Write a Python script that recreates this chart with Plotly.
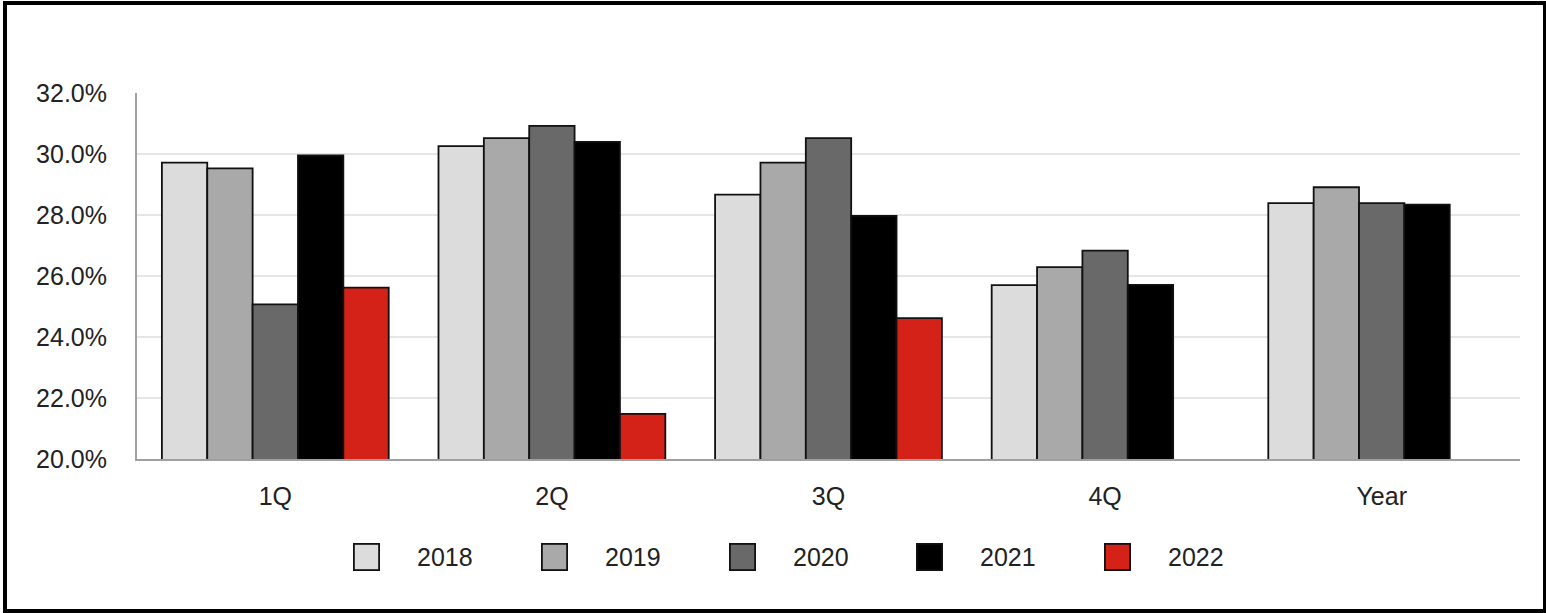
import plotly.graph_objects as go

categories = ["1Q", "2Q", "3Q", "4Q", "Year"]
years = ["2018", "2019", "2020", "2021", "2022"]
v2018 = [29.72, 30.26, 28.67, 25.70, 28.39]
v2019 = [29.53, 30.52, 29.72, 26.29, 28.91]
v2020 = [25.07, 30.92, 30.52, 26.83, 28.39]
v2021 = [29.95, 30.40, 27.97, 25.71, 28.34]
v2022 = [25.62, 21.48, 24.62, None, None]
series = [v2018, v2019, v2020, v2021, v2022]
colors = ["#DCDCDC", "#A9A9A9", "#696969", "#000000", "#D52218"]

W, H = 1546, 613
ML, MR, MT, MB = 137, 26, 93, 154
PW = W - ML - MR
PH = H - MT - MB

FONT = "Liberation Sans, Arial, sans-serif"
TXT = "#222222"
FS = 25

fig = go.Figure()
for name, vals, col in zip(years, series, colors):
    fig.add_trace(go.Bar(
        x=categories, y=vals, name=name, showlegend=False,
        marker=dict(color=col, line=dict(color="#111111", width=1.8)),
    ))


def px_x(p):
    return (p - ML) / PW


def px_y(p):
    return (H - MB - p) / PH


# custom legend (large square swatches)
LEG_X0, LEG_STEP, LEG_Y = 353, 187.8, 557
annotations = []
for i, (name, col) in enumerate(zip(years, colors)):
    x0 = LEG_X0 + i * LEG_STEP
    annotations.append(dict(
        xref="paper", yref="paper", x=px_x(x0 + 13.5), y=px_y(LEG_Y),
        xanchor="center", yanchor="middle", text=" ", showarrow=False,
        width=23, height=24, bgcolor=col, bordercolor="#111111",
        borderwidth=1.8, borderpad=0,
    ))
    annotations.append(dict(
        xref="paper", yref="paper", x=px_x(x0 + 62), y=px_y(LEG_Y),
        xanchor="left", yanchor="middle", text=name, showarrow=False,
        font=dict(family=FONT, size=FS, color=TXT),
    ))

fig.update_layout(
    width=W, height=H,
    margin=dict(l=ML, r=MR, t=MT, b=MB, pad=0),
    paper_bgcolor="white", plot_bgcolor="white",
    barmode="group", bargap=0.18, bargroupgap=0,
    font=dict(family=FONT, size=FS, color=TXT),
    showlegend=False,
    xaxis=dict(
        showgrid=False, showline=True, linecolor="#a0a0a0", linewidth=2,
        ticks="", ticklabelstandoff=14,
        tickfont=dict(size=FS, color=TXT),
    ),
    yaxis=dict(
        range=[20, 32], dtick=2, tick0=20,
        tickformat=".1f", ticksuffix="%",
        showgrid=True, gridcolor="#e6e6e6", gridwidth=2,
        showline=True, linecolor="#a0a0a0", linewidth=2,
        zeroline=False, ticks="", ticklabelstandoff=23,
        tickfont=dict(size=FS, color=TXT),
    ),
    annotations=annotations,
    shapes=[dict(
        type="rect", xref="paper", yref="paper",
        x0=px_x(5), x1=px_x(1545), y0=px_y(611), y1=px_y(3),
        line=dict(color="black", width=4), fillcolor="rgba(0,0,0,0)",
        layer="above",
    )],
)

fig.write_html(
    "out.html",
    config={"displayModeBar": False},
    post_script="document.body.style.margin='0';document.body.style.overflow='hidden';",
)
